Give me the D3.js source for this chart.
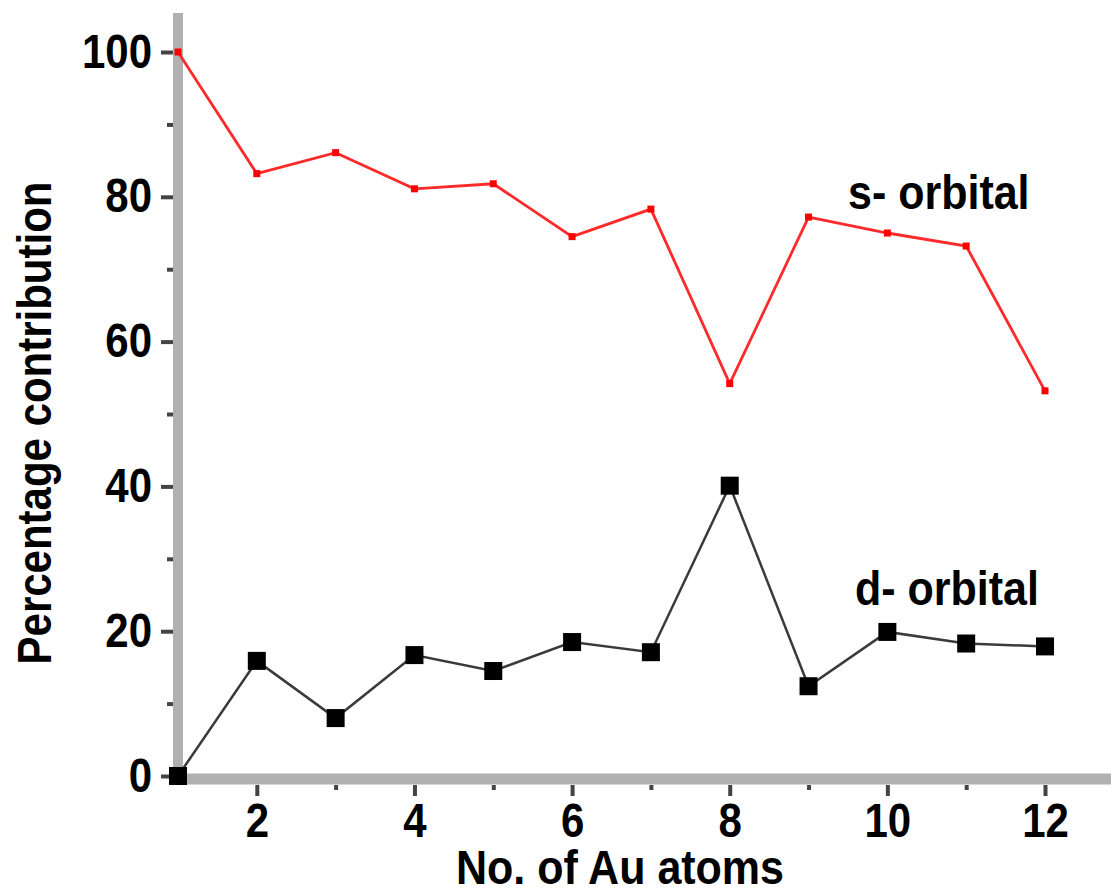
<!DOCTYPE html>
<html>
<head>
<meta charset="utf-8">
<script src="https://cdn.jsdelivr.net/npm/d3@7"></script>
<style>
  html, body { margin: 0; padding: 0; background: #fff; }
  svg { display: block; }
  text { font-family: "Liberation Sans", Arial, sans-serif; font-weight: 700; fill: #000; }
</style>
</head>
<body>
<svg id="chart" width="1111" height="892"></svg>
<script>
// Number of Au atoms in the cluster
const atoms = [1, 2, 3, 4, 5, 6, 7, 8, 9, 10, 11, 12];
// Percentage contribution of the s orbital
const sOrbital = [100, 83.2, 86.1, 81.1, 81.8, 74.5, 78.3, 54.2, 77.2, 75.0, 73.2, 53.2];
// Percentage contribution of the d orbital
const dOrbital = [0, 15.9, 8.0, 16.7, 14.5, 18.5, 17.1, 40.1, 12.4, 19.9, 18.3, 17.9];

const xMajorTicks = [2, 4, 6, 8, 10, 12];
const xMinorTicks = [3, 5, 7, 9, 11];
const yMajorTicks = [0, 20, 40, 60, 80, 100];
const yMinorTicks = [10, 30, 50, 70, 90];

const svg = d3.select("#chart");
const stretch = "scale(1,1.13)";

const x = d3.scaleLinear().domain([1, 12]).range([178, 1045]);
const y = d3.scaleLinear().domain([0, 100]).range([776, 52]);

// Axis lines (thick grey)
const axisColor = "#b0b0b0";
const yAxisX = 178, xAxisY = 779;
svg.append("line")
  .attr("x1", yAxisX).attr("x2", yAxisX)
  .attr("y1", 13).attr("y2", 785)
  .attr("stroke", axisColor).attr("stroke-width", 10);
svg.append("line")
  .attr("x1", 173).attr("x2", 1111)
  .attr("y1", xAxisY).attr("y2", xAxisY)
  .attr("stroke", axisColor).attr("stroke-width", 11);

function styleAxis(g) {
  g.select(".domain").remove();
  g.selectAll(".tick line").attr("stroke", "#444").attr("stroke-width", 4);
  g.selectAll(".tick text")
    .attr("font-size", 42)
    .attr("font-family", "'Liberation Sans', Arial, sans-serif")
    .attr("font-weight", 700)
    .attr("fill", "#000")
    .attr("transform", stretch);
}

// Y axis: major ticks with labels, minor ticks without
svg.append("g")
  .attr("transform", "translate(173,0)")
  .call(d3.axisLeft(y).tickValues(yMajorTicks).tickSize(12).tickPadding(9))
  .call(styleAxis);
svg.append("g")
  .attr("transform", "translate(173,0)")
  .call(d3.axisLeft(y).tickValues(yMinorTicks).tickSize(6).tickFormat(""))
  .call(styleAxis);

// X axis
svg.append("g")
  .attr("transform", "translate(0,785)")
  .call(d3.axisBottom(x).tickValues(xMajorTicks).tickSize(11).tickPadding(5))
  .call(styleAxis);
svg.append("g")
  .attr("transform", "translate(0,785)")
  .call(d3.axisBottom(x).tickValues(xMinorTicks).tickSize(5).tickFormat(""))
  .call(styleAxis);

// Series lines
const sData = atoms.map((a, i) => [a, sOrbital[i]]);
const dData = atoms.map((a, i) => [a, dOrbital[i]]);
const line = d3.line().x(d => x(d[0])).y(d => y(d[1]));

svg.append("path").datum(sData)
  .attr("d", line).attr("fill", "none")
  .attr("stroke", "#ff2a2a").attr("stroke-width", 2.8);
svg.append("path").datum(dData)
  .attr("d", line).attr("fill", "none")
  .attr("stroke", "#3a3a3a").attr("stroke-width", 2.5);

// Markers
const sm = 7;
svg.append("g").selectAll("rect").data(sData).join("rect")
  .attr("x", d => x(d[0]) - sm / 2).attr("y", d => y(d[1]) - sm / 2)
  .attr("width", sm).attr("height", sm).attr("fill", "#ff0000");
const dm = 18;
svg.append("g").selectAll("rect").data(dData).join("rect")
  .attr("x", d => x(d[0]) - dm / 2).attr("y", d => y(d[1]) - dm / 2)
  .attr("width", dm).attr("height", dm).attr("fill", "#000");

// Series labels
svg.append("text")
  .attr("transform", `translate(848,209) ${stretch}`)
  .attr("font-size", 43).text("s- orbital");
svg.append("text")
  .attr("transform", `translate(855,605) ${stretch}`)
  .attr("font-size", 43).text("d- orbital");

// Axis titles
svg.append("text")
  .attr("transform", `translate(620,884) ${stretch}`)
  .attr("text-anchor", "middle")
  .attr("font-size", 43).text("No. of Au atoms");
svg.append("text")
  .attr("transform", `translate(51,423) rotate(-90) ${stretch}`)
  .attr("text-anchor", "middle")
  .attr("font-size", 42).text("Percentage contribution");
</script>
</body>
</html>
